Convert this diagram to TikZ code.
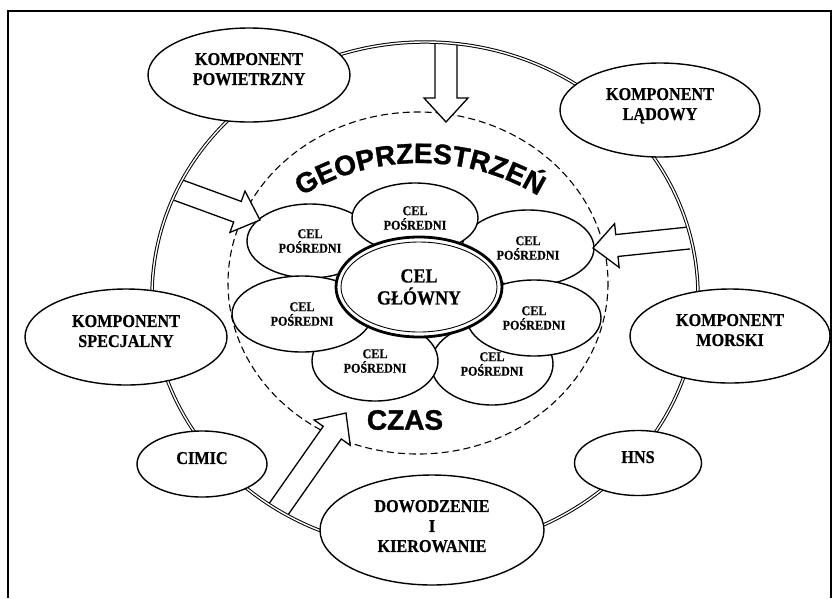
\documentclass[tikz,border=0pt]{standalone}
\usepackage{fontspec}
\usepackage{tikz}
\usetikzlibrary{shapes.geometric,calc,decorations.text}
\setmainfont{Liberation Serif}
\newfontfamily\labfont[FakeStretch=0.9,FakeBold=0.6]{Liberation Serif}
\newfontfamily\geofont[FakeBold=1.2]{Liberation Sans}

\newcommand{\blockarrow}[2]{%
  \coordinate (ba-h) at ($(#2)!24pt!(#1)$);
  \filldraw[hollowarrow] ($(#1)!11pt!90:(#2)$) -- ($(ba-h)!11pt!90:(#2)$) -- ($(ba-h)!22pt!90:(#2)$) -- (#2)
    -- ($(ba-h)!22pt!-90:(#2)$) -- ($(ba-h)!11pt!-90:(#2)$) -- ($(#1)!11pt!-90:(#2)$);
}

\begin{document}
\begin{tikzpicture}[x=1pt,y=-1pt,
  comp/.style={ellipse,draw,line width=1.4pt,fill=white,inner sep=0pt,align=center,font=\labfont\bfseries\fontsize{18}{20}\selectfont,text depth=12pt},
  pet/.style={ellipse,draw,line width=1.4pt,fill=white,inner sep=0pt,align=center,font=\labfont\bfseries\fontsize{13.5}{14.5}\selectfont},
  ring/.style={double,double distance=1.4pt,line width=1pt},
  zone/.style={dash pattern=on 7pt off 4pt,line width=1.1pt},
  hollowarrow/.style={draw,fill=white,line width=1.3pt},
  big/.style={font=\geofont\bfseries\fontsize{28}{28}\selectfont}
]
\useasboundingbox (0,0) rectangle (835,598);
\draw[line width=1.3pt] (8,598) -- (8,11) -- (831,11) -- (831,598);

\draw[zone] (418,283) ellipse [x radius=190,y radius=171];

\node[pet,minimum width=122pt,minimum height=82pt] (pbr) at (492,364) {CEL\\POŚREDNI};
\node[pet,minimum width=126pt,minimum height=80pt] (pbl) at (375,361) {CEL\\POŚREDNI};
\node[pet,minimum width=126pt,minimum height=74pt] (ptl) at (310,241) {CEL\\POŚREDNI};
\node[pet,minimum width=132pt,minimum height=76pt] (ptr) at (528,248) {CEL\\POŚREDNI};
\node[pet,minimum width=140pt,minimum height=76pt] (pl) at (302,314) {CEL\\POŚREDNI};
\node[pet,minimum width=134pt,minimum height=76pt] (pr) at (534,318) {CEL\\POŚREDNI};
\node[pet,minimum width=126pt,minimum height=70pt] (pt) at (415,218) {CEL\\POŚREDNI};
\node[ellipse,draw,line width=2.8pt,fill=white,inner sep=0pt,minimum width=166pt,minimum height=100pt,align=center,
  font=\labfont\bfseries\fontsize{20}{22}\selectfont] (main) at (419,287) {CEL\\GŁÓWNY};
\draw[line width=0.9pt] (main.center) ellipse [x radius=78,y radius=45];

\path[decorate,decoration={text along path,text align=center,
  text={|\geofont\bfseries\fontsize{28}{28}\selectfont|GEOPRZESTRZEŃ}}]
  (420,392) ++(-125:229) arc[start angle=-125,end angle=-55,radius=229];
\node[big] (czas) at (405,420) {CZAS};

\coordinate (tA) at (446,43);
\coordinate (tB) at (446,122);
\coordinate (lA) at (178,190);
\coordinate (lB) at (260,220);
\coordinate (rA) at (689,238);
\coordinate (rB) at (593,248);
\coordinate (bA) at (278,510);
\coordinate (bB) at (346,413);
\blockarrow{tA}{tB}
\blockarrow{lA}{lB}
\blockarrow{rA}{rB}
\blockarrow{bA}{bB}

\draw[ring] (425,296) ellipse [x radius=273,y radius=254];

\node[comp,minimum width=202pt,minimum height=94pt] (air) at (249,75) {KOMPONENT\\POWIETRZNY};
\node[comp,minimum width=200pt,minimum height=94pt] (land) at (660,110) {KOMPONENT\\LĄDOWY};
\node[comp,minimum width=202pt,minimum height=96pt] (spec) at (126,337) {KOMPONENT\\SPECJALNY};
\node[comp,minimum width=200pt,minimum height=94pt] (sea) at (730,336) {KOMPONENT\\MORSKI};
\node[comp,minimum width=130pt,minimum height=66pt] (cimic) at (202,464) {CIMIC};
\node[comp,minimum width=127pt,minimum height=65pt] (hns) at (638,463) {HNS};
\node[comp,minimum width=224pt,minimum height=110pt,text depth=8pt] (cmd) at (432,530) {DOWODZENIE\\I\\KIEROWANIE};
\end{tikzpicture}
\end{document}
